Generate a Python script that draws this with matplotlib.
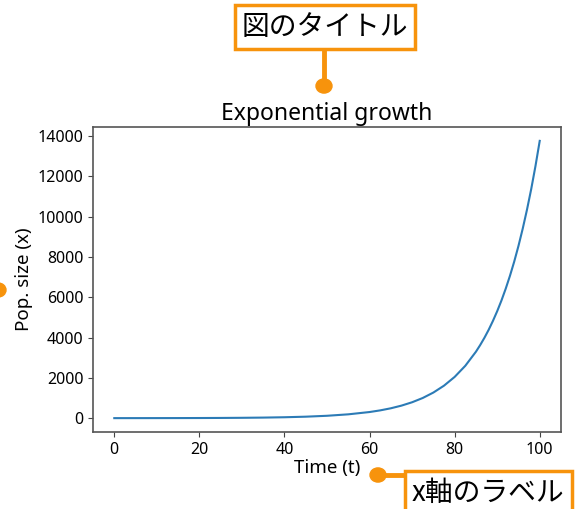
import matplotlib
matplotlib.use("Agg")
import matplotlib.pyplot as plt
from matplotlib.lines import Line2D
from matplotlib.patches import Circle

plt.rcParams["font.family"] = ["Noto Sans", "Noto Sans CJK JP", "DejaVu Sans"]

# values
time = [0, 5, 10, 15, 20, 25, 30, 35, 40, 45, 50, 55, 60, 62.5, 65, 67.5, 70,
        72.5, 75, 77.5, 80, 82.5, 85, 86, 87, 88, 89, 90, 91, 92, 93, 94, 95,
        96, 97, 98, 99, 100]
pop = [1, 1.6, 2.6, 4.2, 6.7, 10.8, 17.5, 28, 45, 73, 118, 190, 304, 386, 490,
       622, 789, 1001, 1271, 1613, 2047, 2598, 3297, 3627, 3989, 4387, 4828,
       5309, 5838, 6425, 7065, 7770, 8548, 9405, 10344, 11374, 12516, 13766]

title_text = "Exponential growth"
x_label = "Time (t)"
y_label = "Pop. size (x)"
note_title = "図のタイトル"
note_xlabel = "x軸のラベル"

orange = "#f7930c"
W, H = 576, 509

fig = plt.figure(figsize=(W / 100, H / 100), dpi=100)
ax = fig.add_axes([93 / W, 77 / H, 468 / W, 305 / H])
ax.plot(time, pop, color="#2c7bb6", lw=1.5)
ax.set_title(title_text, fontsize=16.5, pad=5)
ax.set_xlabel(x_label, fontsize=13.5, labelpad=1)
ax.set_ylabel(y_label, fontsize=13.5, labelpad=3)
ax.tick_params(labelsize=11.5, color="#444444")
for s in ax.spines.values():
    s.set_color("#555555")
    s.set_linewidth(1.2)


def px(x, y):
    # pixel position (from top-left) to figure fraction
    return x / W, 1 - y / H


def dot(x, y, r=8):
    fig.add_artist(Circle(px(x, y), r / W, transform=fig.transFigure,
                          color=orange, zorder=5))


def seg(x0, y0, x1, y1):
    a, b = px(x0, y0)
    c, d = px(x1, y1)
    fig.add_artist(Line2D([a, c], [b, d], transform=fig.transFigure,
                          color=orange, lw=3.5, zorder=4))


box = dict(boxstyle="square,pad=0.25", fc="white", ec=orange, lw=2.5)

# title note
seg(324, 48, 324, 86)
dot(324, 86)
fig.text(*px(325, 27), note_title, fontsize=20, ha="center", va="center",
         bbox=box, zorder=6, family=["Noto Sans CJK JP"])

# x label note
seg(378, 475, 410, 475)
dot(378, 475)
fig.text(*px(412, 493), note_xlabel, fontsize=20, ha="left", va="center",
         bbox=box, zorder=6, family=["Noto Sans CJK JP"])

# y label note (cut off at the left edge)
dot(-2, 290)

fig.savefig("out.png", dpi=100)
